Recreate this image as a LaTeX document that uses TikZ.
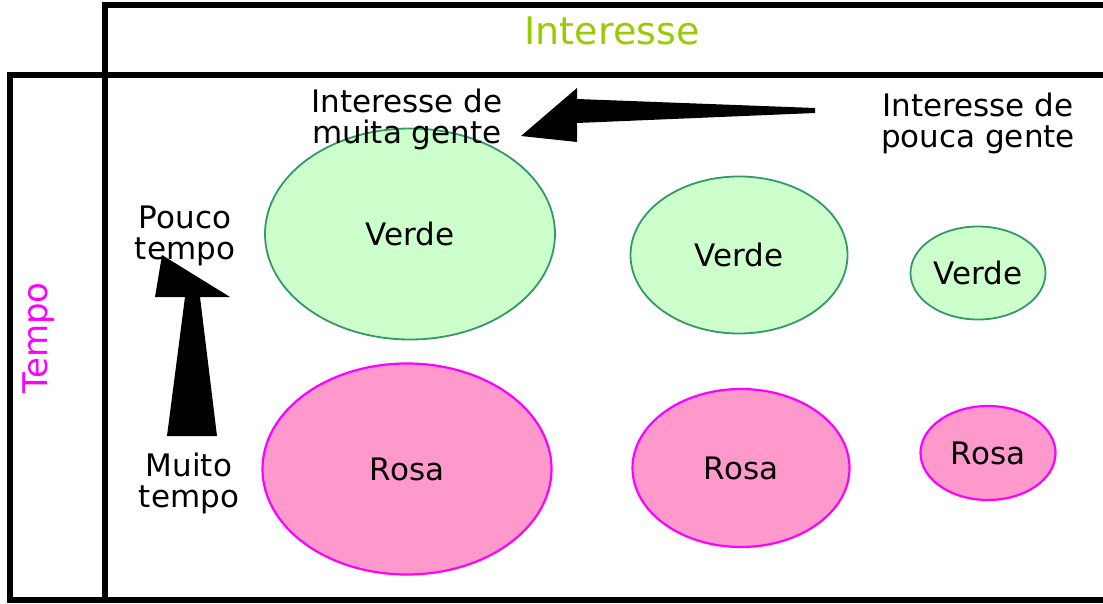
\documentclass[tikz,border=0pt]{standalone}
\usepackage{fontspec}
\setmainfont{DejaVu Sans}
\usetikzlibrary{shapes.geometric}

\definecolor{titlegreen}{HTML}{99CC00}
\definecolor{verdefill}{HTML}{CCFFCC}
\definecolor{verdeline}{HTML}{339966}
\definecolor{rosafill}{HTML}{FF99CC}
\definecolor{rosaline}{HTML}{FF00FF}

\begin{document}
\begin{tikzpicture}[x=1pt,y=-1pt,
box/.style={line width=6pt,draw=black},
label/.style={align=center,font=\fontsize{31}{31}\selectfont},
verde/.style={ellipse,draw=verdeline,fill=verdefill,line width=1.8pt,inner sep=0pt,font=\fontsize{31}{31}\selectfont},
rosa/.style={ellipse,draw=rosaline,fill=rosafill,line width=2.2pt,inner sep=0pt,font=\fontsize{31}{31}\selectfont}]

\clip (0,0) rectangle (1103,604);
\fill[white] (0,0) rectangle (1103,604);

% frames
\draw[box] (1120,5) -- (105,5) -- (105,75) -- (1120,75);
\draw[box] (1120,600) -- (105,600) -- (105,75);
\draw[box] (10,75) rectangle (105,600);

\node[text=titlegreen,font=\fontsize{38}{40}\selectfont] (interesse) at (612,31) {Interesse};
\node[text=rosaline,rotate=90,font=\fontsize{34}{36}\selectfont] (tempo) at (39,338) {Tempo};

% ellipses
\begin{scope}
	\node[verde,minimum width=290pt,minimum height=211pt] (v1) at (410,234) {Verde};
	\node[verde,minimum width=217pt,minimum height=157pt] (v2) at (739,255) {Verde};
	\node[verde,minimum width=135pt,minimum height=93pt] (v3) at (978,273) {Verde};
	\node[rosa,minimum width=289pt,minimum height=211pt] (r1) at (407,469) {Rosa};
	\node[rosa,minimum width=217pt,minimum height=158pt] (r2) at (741,468) {Rosa};
	\node[rosa,minimum width=135pt,minimum height=94pt] (r3) at (988,453) {Rosa};
\end{scope}

% texts
\node[label] (muita) at (407,119) {Interesse de\\muita gente};
\node[label] (pouca) at (978,123) {Interesse de\\pouca gente};
\node[label] (poucotempo) at (185,236) {Pouco\\tempo};
\node[label] (muitotempo) at (189,483) {Muito\\tempo};

% block arrows
\fill[black] (815,108) -- (815,113) -- (577,123) -- (577,142) -- (521,136)
	-- (577,88) -- (577,99) -- cycle;
\fill[black] (167,436) -- (217,436) -- (200,297) -- (230,297) -- (162,255)
	-- (155,297) -- (185,297) -- cycle;

\end{tikzpicture}
\end{document}
